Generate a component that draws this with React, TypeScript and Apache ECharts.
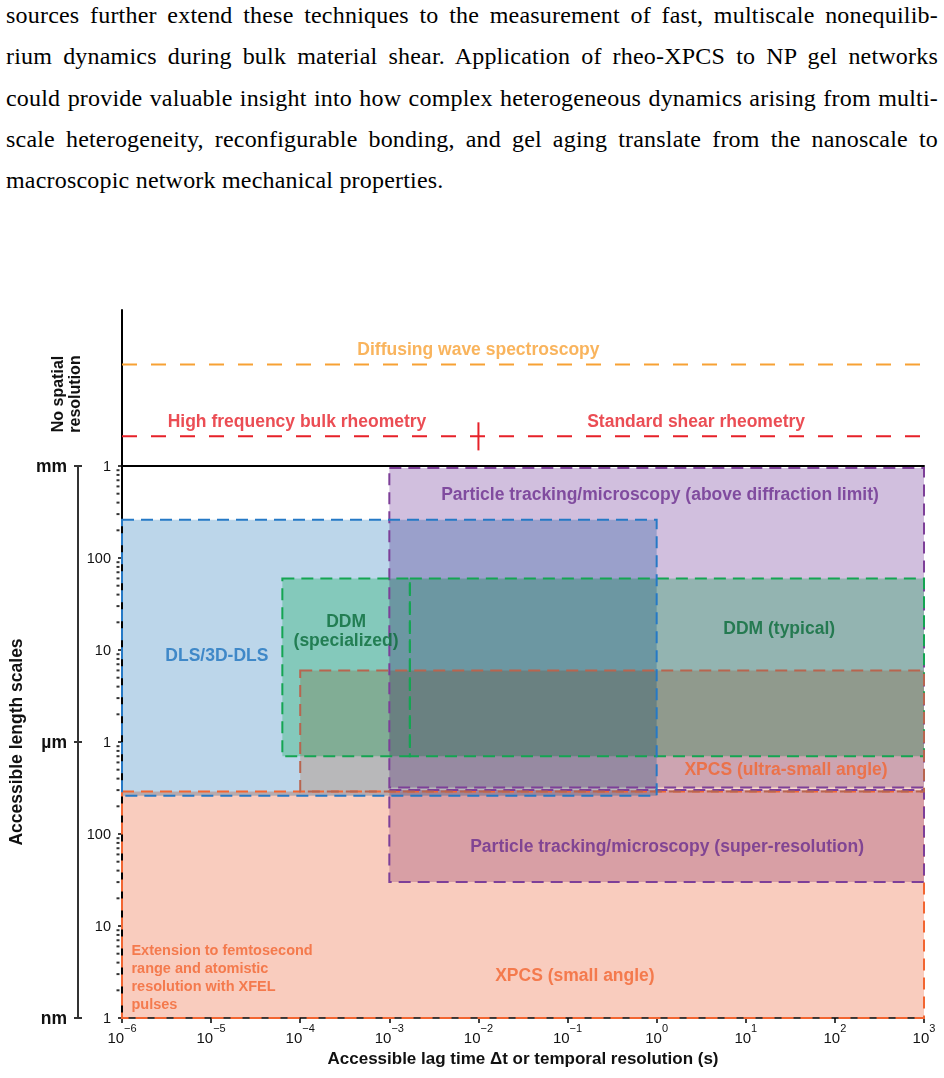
import React, { useEffect, useRef } from "react";
import * as echarts from "echarts";

// ---------- text above the chart ----------
const PARAGRAPH_LINES = [
  "sources further extend these techniques to the measurement of fast, multiscale nonequilib-",
  "rium dynamics during bulk material shear.  Application of rheo-XPCS to NP gel networks",
  "could provide valuable insight into how complex heterogeneous dynamics arising from multi-",
  "scale heterogeneity, reconfigurable bonding, and gel aging translate from the nanoscale to",
  "macroscopic network mechanical properties.",
];

// ---------- axes ----------
const T_MIN = 1e-6; // s
const T_MAX = 1e3; // s
const L_MIN = 1; // nm
const L_MAX = 1e6; // nm (1 mm)
const Y_TICK_LABELS = ["1", "10", "100", "1", "10", "100", "1"]; // by decade of nm
const UNIT_LABELS: Record<number, string> = { 0: "nm", 3: "µm", 6: "mm" };
const MINOR_MULTIPLIERS = [2, 3, 4, 5, 6, 7, 8, 9];
const DECADES = [0, 1, 2, 3, 4, 5];

// ---------- regions (time range in s, length range in nm), in drawing order ----------
const REGION_NAMES = [
  "XPCS (small angle)",
  "Particle tracking/microscopy (above diffraction limit)",
  "Particle tracking/microscopy (super-resolution)",
  "DDM (specialized)",
  "DDM (typical)",
  "XPCS (ultra-small angle)",
  "DLS/3D-DLS",
];
const REGION_T_MIN = [1e-6, 1e-3, 1e-3, 6.3e-5, 1.7e-3, 1e-4, 1e-6];
const REGION_T_MAX = [1e3, 1e3, 1e3, 1.7e-3, 1e3, 1e3, 1];
const REGION_L_MIN = [1, 320, 30, 700, 700, 290, 260];
const REGION_L_MAX = [290, 9.5e5, 300, 6e4, 6e4, 6000, 2.6e5];

// ---------- labels inside regions ----------
const LABEL_TEXTS = [
  "Particle tracking/microscopy (above diffraction limit)",
  "DLS/3D-DLS",
  "DDM\n(specialized)",
  "DDM (typical)",
  "XPCS (ultra-small angle)",
  "Particle tracking/microscopy (super-resolution)",
  "XPCS (small angle)",
  "Extension to femtosecond\nrange and atomistic\nresolution with XFEL\npulses",
];
const LABEL_T = [1.09, 1.16e-5, 3.27e-4, 23.7, 28.3, 1.31, 0.121, 1.26e-6];
const LABEL_L = [4.96e5, 8.8e3, 1.63e4, 1.73e4, 509, 74, 2.93, 2.79];

// ---------- bulk (no spatial resolution) techniques ----------
const BULK_NAMES = ["Diffusing wave spectroscopy", "Bulk rheometry"];
const BULK_T_START = [1e-6, 1e-6];
const BULK_T_END = [1.23e3, 1.23e3];
const BULK_LEVEL = [0.65, 0.19];
const RHEO_SPLIT_T = 1e-2;
const BULK_LABELS = ["Diffusing wave spectroscopy", "High frequency bulk rheometry", "Standard shear rheometry"];
const BULK_LABEL_T = [1e-2, 9.2e-5, 2.77];
const BULK_LABEL_LEVEL = [0.65, 0.19, 0.19];

// ---------- styles ----------
const FONT = "Liberation Sans, Arial, sans-serif";
const REGION_FILL = ["#F9CCBE", "#D1BFDE", "#DEC7DD", "#B3F0CC", "#B3F0CC", "#FADBCB", "#BCD6EA"];
const REGION_STROKE = ["#F26531", "#7D3F98", "#7D3F98", "#14A552", "#14A552", "#B8654F", "#2579C6"];
const LABEL_COLORS = ["#6B2E8F", "#1F74BF", "#0A6B3A", "#0A6B3A", "#F26531", "#6B2E8F", "#F26531", "#F26531"];
const BULK_COLORS = ["#F7A134", "#E62129"];
const BULK_LABEL_COLORS = ["#F7A134", "#E62129", "#E62129"];

const expOf = (v: number) => Math.round(Math.log10(v));

export default function App() {
  const ref = useRef<HTMLDivElement>(null);

  useEffect(() => {
    if (!ref.current) return;
    const chart = echarts.init(ref.current, null, { renderer: "svg" });

    const regionData = REGION_NAMES.map((name, i) => ({
      name,
      value: [REGION_T_MIN[i], REGION_T_MAX[i], REGION_L_MIN[i], REGION_L_MAX[i], i],
    }));

    const minorData: number[][] = [];
    DECADES.forEach((d) =>
      MINOR_MULTIPLIERS.forEach((m) => minorData.push([T_MIN, m * Math.pow(10, d)]))
    );

    const labelData = LABEL_TEXTS.map((text, i) => {
      const isExt = i === LABEL_TEXTS.length - 1;
      return {
        name: text,
        value: [LABEL_T[i], LABEL_L[i]],
        label: {
          position: isExt ? "right" : "inside",
          distance: 0,
          color: LABEL_COLORS[i],
          fontSize: isExt ? 14.5 : 17.5,
          lineHeight: isExt ? 18 : 19,
          align: isExt ? "left" : "center",
        },
      };
    });

    const rectRenderer = (asFill: boolean) => (params: any, api: any) => {
      const idx = api.value(4);
      const p1 = api.coord([api.value(0), api.value(3)]);
      const p2 = api.coord([api.value(1), api.value(2)]);
      return {
        type: "rect",
        shape: { x: p1[0], y: p1[1], width: p2[0] - p1[0], height: p2[1] - p1[1] },
        style: asFill
          ? { fill: REGION_FILL[idx], stroke: "none" }
          : { fill: "none", stroke: REGION_STROKE[idx], lineWidth: 2, lineDash: [12, 7] },
      };
    };

    const bulkSeries: any[] = BULK_NAMES.map((name, i) => ({
      name,
      type: "line",
      xAxisIndex: 1,
      yAxisIndex: 3,
      symbol: "none",
      clip: false,
      silent: true,
      data: [
        [BULK_T_START[i], BULK_LEVEL[i]],
        [BULK_T_END[i], BULK_LEVEL[i]],
      ],
      lineStyle: { color: BULK_COLORS[i], width: 2, type: [15, 14] },
      z: 3,
    }));

    const option: any = {
      animation: false,
      backgroundColor: "#fff",
      textStyle: { fontFamily: FONT },
      grid: [
        { left: 122, right: 20, top: 466, bottom: 60, outerBoundsMode: "none", containLabel: false },
        { left: 122, right: 20, top: 310, height: 156, outerBoundsMode: "none", containLabel: false },
      ],
      xAxis: [
        {
          type: "log",
          gridIndex: 0,
          logBase: 10,
          min: T_MIN,
          max: T_MAX,
          splitNumber: 9,
          position: "bottom",
          axisLine: { show: true, lineStyle: { color: "#000", width: 1.5 } },
          axisTick: { show: true, length: 5, lineStyle: { color: "#000", width: 1.5 } },
          splitLine: { show: false },
          minorTick: { show: false },
          axisLabel: {
            margin: 4.5,
            showMinLabel: true,
            showMaxLabel: true,
            formatter: (v: number) => {
              const e = expOf(v);
              return `{b|10}{s|${e < 0 ? "\u2212" + -e : e}}`;
            },
            rich: {
              b: { fontSize: 15, lineHeight: 22.5, verticalAlign: "bottom", color: "#111", fontFamily: FONT },
              s: { fontSize: 11, lineHeight: 8, verticalAlign: "top", color: "#111", fontFamily: FONT },
            },
          },
          name: "Accessible lag time \u0394t or temporal resolution (s)",
          nameLocation: "middle",
          nameGap: 23,
          nameTextStyle: { fontSize: 17, fontWeight: "bold", color: "#111", fontFamily: FONT },
        },
        {
          type: "log",
          gridIndex: 1,
          logBase: 10,
          min: T_MIN,
          max: T_MAX,
          position: "bottom",
          axisLine: { show: true, lineStyle: { color: "#000", width: 2 } },
          axisTick: { show: false },
          axisLabel: { show: false },
          splitLine: { show: false },
        },
      ],
      yAxis: [
        {
          type: "log",
          gridIndex: 0,
          position: "left",
          logBase: 10,
          min: L_MIN,
          max: L_MAX,
          splitNumber: 6,
          axisLine: { show: true, lineStyle: { color: "#000", width: 2 } },
          axisTick: { show: true, length: 4, lineStyle: { color: "#000", width: 1.5 } },
          splitLine: { show: false },
          axisLabel: {
            margin: 11,
            fontSize: 14.5,
            color: "#111",
            showMinLabel: true,
            showMaxLabel: true,
            formatter: (v: number) => Y_TICK_LABELS[expOf(v)] ?? "",
          },
        },
        {
          type: "log",
          gridIndex: 0,
          position: "left",
          logBase: 1000,
          min: L_MIN,
          max: L_MAX,
          splitNumber: 2,
          offset: 44,
          axisLine: { show: true, lineStyle: { color: "#333", width: 2 } },
          axisTick: { show: true, length: 4, lineStyle: { color: "#333", width: 2 } },
          splitLine: { show: false },
          axisLabel: {
            margin: 11,
            fontSize: 17.5,
            fontWeight: "bold",
            color: "#111",
            showMinLabel: true,
            showMaxLabel: true,
            formatter: (v: number) => UNIT_LABELS[expOf(v)] ?? "",
          },
          name: "Accessible length scales",
          nameLocation: "middle",
          nameGap: 53,
          nameTextStyle: { fontSize: 17.5, fontWeight: "bold", color: "#111", fontFamily: FONT },
        },
        {
          type: "log",
          gridIndex: 0,
          position: "left",
          logBase: 1000,
          min: L_MIN,
          max: L_MAX,
          splitNumber: 2,
          offset: 44,
          axisLine: { show: false },
          axisTick: { show: true, inside: true, length: 4, lineStyle: { color: "#333", width: 2 } },
          axisLabel: { show: false },
          splitLine: { show: false },
        },
        {
          type: "value",
          gridIndex: 1,
          position: "left",
          min: 0,
          max: 1,
          axisLine: { show: true, lineStyle: { color: "#000", width: 2 } },
          axisTick: { show: false },
          axisLabel: { show: false },
          splitLine: { show: false },
        },
      ],
      graphic: [
        {
          type: "text",
          x: 66,
          y: 394,
          rotation: Math.PI / 2,
          style: {
            text: "No spatial\nresolution",
            fontSize: 16,
            fontWeight: "bold",
            fontFamily: FONT,
            lineHeight: 17,
            fill: "#111",
            align: "center",
            textAlign: "center",
            verticalAlign: "middle",
            textVerticalAlign: "middle",
          },
        },
      ],
      series: [
        {
          name: "region fills",
          type: "custom",
          xAxisIndex: 0,
          yAxisIndex: 0,
          silent: true,
          encode: { x: [0, 1], y: [2, 3] },
          data: regionData,
          renderItem: rectRenderer(true),
          z: 2,
        },
        {
          name: "region borders",
          type: "custom",
          xAxisIndex: 0,
          yAxisIndex: 0,
          silent: true,
          encode: { x: [0, 1], y: [2, 3] },
          data: regionData,
          renderItem: rectRenderer(false),
          z: 3,
        },
        {
          name: "minor ticks",
          type: "scatter",
          xAxisIndex: 0,
          yAxisIndex: 0,
          silent: true,
          clip: false,
          symbol: "rect",
          symbolSize: [3, 2],
          symbolOffset: [-4, 0],
          itemStyle: { color: "#000" },
          data: minorData,
          z: 5,
        },
        {
          name: "region labels",
          type: "scatter",
          xAxisIndex: 0,
          yAxisIndex: 0,
          silent: true,
          clip: false,
          symbolSize: 1,
          itemStyle: { color: "rgba(0,0,0,0)" },
          label: { show: true, formatter: "{b}", fontWeight: "bold", fontFamily: FONT },
          data: labelData,
          z: 10,
        },
        ...bulkSeries,
        {
          name: "rheometry split",
          type: "line",
          xAxisIndex: 1,
          yAxisIndex: 3,
          symbol: "none",
          silent: true,
          data: [
            [RHEO_SPLIT_T, 0.1],
            [RHEO_SPLIT_T, 0.28],
          ],
          lineStyle: { color: BULK_COLORS[1], width: 2, type: "solid" },
          z: 3,
        },
        {
          name: "bulk labels",
          type: "scatter",
          xAxisIndex: 1,
          yAxisIndex: 3,
          silent: true,
          clip: false,
          symbolSize: 1,
          itemStyle: { color: "rgba(0,0,0,0)" },
          label: {
            show: true,
            position: "top",
            distance: 6,
            formatter: "{b}",
            fontWeight: "bold",
            fontSize: 17.5,
            fontFamily: FONT,
          },
          data: BULK_LABELS.map((name, i) => ({
            name,
            value: [BULK_LABEL_T[i], BULK_LABEL_LEVEL[i]],
            label: { color: BULK_LABEL_COLORS[i] },
          })),
          z: 10,
        },
      ],
    };

    chart.setOption(option);
    return () => chart.dispose();
  }, []);

  return (
    <div style={{ position: "absolute", left: 0, top: 0, width: 944, height: 1078, background: "#fff" }}>
      <style>{'.rs-chart svg path:not([fill="none"]) { mix-blend-mode: multiply; }'}</style>
      <div
        ref={ref}
        className="rs-chart"
        style={{ position: "absolute", left: 0, top: 0, width: 944, height: 1078, isolation: "isolate" }}
      />
      <div
        style={{
          position: "absolute",
          left: 6,
          top: -5,
          width: 932,
          fontFamily: '"Liberation Serif", "DejaVu Serif", serif',
          fontSize: 24,
          letterSpacing: 0.2,
          lineHeight: "41.3px",
          color: "#000",
        }}
      >
        {PARAGRAPH_LINES.map((line, i) => (
          <div
            key={i}
            style={{
              textAlign: i < PARAGRAPH_LINES.length - 1 ? "justify" : "left",
              textAlignLast: i < PARAGRAPH_LINES.length - 1 ? "justify" : "left",
            }}
          >
            {line}
          </div>
        ))}
      </div>
    </div>
  );
}
